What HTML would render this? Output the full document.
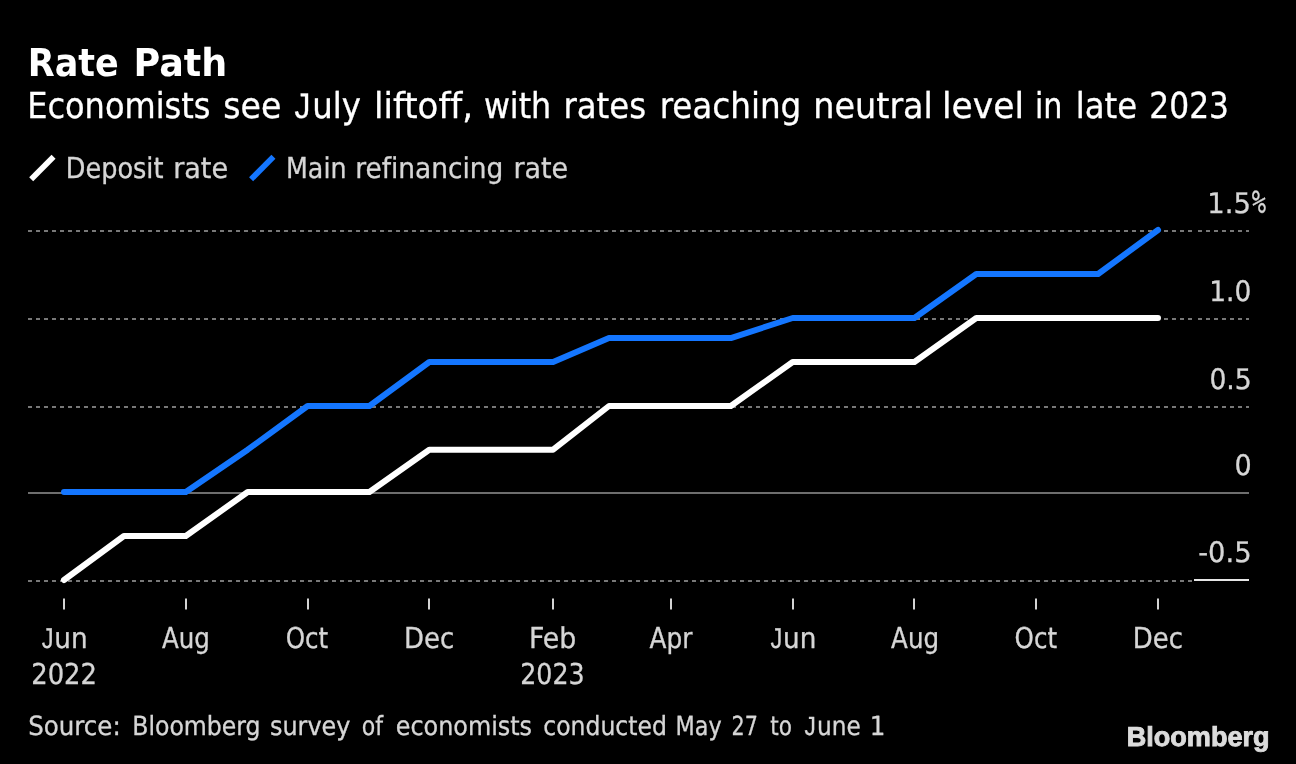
<!DOCTYPE html>
<html lang="en"><head><meta charset="utf-8"><title>Rate Path</title>
<style>
html,body{margin:0;padding:0;background:#000;}
body{width:1296px;height:764px;overflow:hidden;font-family:"DejaVu Sans","Liberation Sans",sans-serif;}
svg{display:block}
text{font-family:"DejaVu Sans Condensed","DejaVu Sans","Liberation Sans",sans-serif;text-rendering:geometricPrecision;font-variant-ligatures:none}
.pc{font-family:"DejaVu Sans Mono",monospace}
.ls{font-family:"Liberation Sans",sans-serif}
.b{font-weight:bold}
.logo{font-family:"Liberation Sans",sans-serif;font-weight:bold}
</style></head><body>
<svg width="1296" height="764" viewBox="0 0 1296 764">
<rect width="1296" height="764" fill="#000"/>

<text class="b" y="75.80" font-size="38.4" fill="#fff"><tspan x="27.76" textLength="90.99" lengthAdjust="spacingAndGlyphs">Rate</tspan> <tspan x="133.53" textLength="93.70" lengthAdjust="spacingAndGlyphs">Path</tspan></text>
<text y="117.80" font-size="35.7" fill="#fff" stroke="#fff" stroke-width="0.3"><tspan x="27.22" textLength="183.19" lengthAdjust="spacingAndGlyphs">Economists</tspan> <tspan x="223.27" textLength="58.13" lengthAdjust="spacingAndGlyphs">see</tspan> <tspan class="ls" x="294.60" textLength="15.88" lengthAdjust="spacingAndGlyphs">J</tspan><tspan x="312.35" textLength="48.64" lengthAdjust="spacingAndGlyphs">uly</tspan> <tspan x="374.03" textLength="99.11" lengthAdjust="spacingAndGlyphs">liftoff,</tspan> <tspan x="483.90" textLength="67.33" lengthAdjust="spacingAndGlyphs">with</tspan> <tspan x="563.44" textLength="82.69" lengthAdjust="spacingAndGlyphs">rates</tspan> <tspan x="659.67" textLength="141.66" lengthAdjust="spacingAndGlyphs">reaching</tspan> <tspan x="813.35" textLength="119.56" lengthAdjust="spacingAndGlyphs">neutral</tspan> <tspan x="942.01" textLength="81.99" lengthAdjust="spacingAndGlyphs">level</tspan> <tspan x="1034.88" textLength="27.47" lengthAdjust="spacingAndGlyphs">in</tspan> <tspan x="1075.69" textLength="61.43" lengthAdjust="spacingAndGlyphs">late</tspan> <tspan x="1149.33" textLength="79.65" lengthAdjust="spacingAndGlyphs">2023</tspan></text>
<line x1="31.2" y1="179.3" x2="53.55" y2="156.65" stroke="#fff" stroke-width="5.65"/>
<text y="177.60" font-size="28.8" fill="#d6d6d6" stroke="#d6d6d6" stroke-width="0.3"><tspan x="65.78" textLength="97.72" lengthAdjust="spacingAndGlyphs">Deposit</tspan> <tspan x="173.15" textLength="55.00" lengthAdjust="spacingAndGlyphs">rate</tspan></text>
<line x1="251.1" y1="179.3" x2="273.45" y2="156.65" stroke="#1476ff" stroke-width="5.65"/>
<text y="177.60" font-size="28.8" fill="#d6d6d6" stroke="#d6d6d6" stroke-width="0.3"><tspan x="286.00" textLength="60.48" lengthAdjust="spacingAndGlyphs">Main</tspan> <tspan x="355.21" textLength="148.14" lengthAdjust="spacingAndGlyphs">refinancing</tspan> <tspan x="513.41" textLength="54.73" lengthAdjust="spacingAndGlyphs">rate</tspan></text>
<line x1="28" y1="231" x2="1194" y2="231" stroke="#787878" stroke-width="2" stroke-dasharray="4 4"/>
<line x1="1198" y1="231" x2="1249" y2="231" stroke="#787878" stroke-width="2" stroke-dasharray="4 4"/>
<line x1="28" y1="319" x2="1194" y2="319" stroke="#787878" stroke-width="2" stroke-dasharray="4 4"/>
<line x1="1198" y1="319" x2="1249" y2="319" stroke="#787878" stroke-width="2" stroke-dasharray="4 4"/>
<line x1="28" y1="407" x2="1194" y2="407" stroke="#787878" stroke-width="2" stroke-dasharray="4 4"/>
<line x1="1198" y1="407" x2="1249" y2="407" stroke="#787878" stroke-width="2" stroke-dasharray="4 4"/>
<line x1="28" y1="581" x2="1194" y2="581" stroke="#787878" stroke-width="2" stroke-dasharray="4 4"/>
<line x1="28" y1="493" x2="1249" y2="493" stroke="#6e6e6e" stroke-width="2"/>
<line x1="1194" y1="580" x2="1249" y2="580" stroke="#e6e6e6" stroke-width="2"/>
<text y="212.60" font-size="28.3" fill="#d6d6d6" stroke="#d6d6d6" stroke-width="0.3"><tspan x="1207.34" textLength="43.56" lengthAdjust="spacingAndGlyphs">1.5</tspan><tspan class="pc" font-size="32.3" x="1251.83" textLength="14.27" lengthAdjust="spacingAndGlyphs">%</tspan></text>
<text y="300.60" font-size="28.3" fill="#d6d6d6" stroke="#d6d6d6" stroke-width="0.3"><tspan x="1209.25" textLength="42.02" lengthAdjust="spacingAndGlyphs">1.0</tspan></text>
<text y="388.60" font-size="28.3" fill="#d6d6d6" stroke="#d6d6d6" stroke-width="0.3"><tspan x="1209.41" textLength="42.33" lengthAdjust="spacingAndGlyphs">0.5</tspan></text>
<text y="474.60" font-size="28.3" fill="#d6d6d6" stroke="#d6d6d6" stroke-width="0.3"><tspan x="1234.49" textLength="17.21" lengthAdjust="spacingAndGlyphs">0</tspan></text>
<text y="561.60" font-size="28.3" fill="#d6d6d6" stroke="#d6d6d6" stroke-width="0.3"><tspan x="1198.25" textLength="53.35" lengthAdjust="spacingAndGlyphs">-0.5</tspan></text>
<polyline points="64.0,492.0 123.9,492.0 185.8,492.0 247.7,449.7 307.6,406.0 369.4,406.0 429.3,362.0 491.2,362.0 553.1,362.0 609.0,338.1 670.9,338.1 730.8,338.1 792.7,318.0 852.6,318.0 914.4,318.0 976.3,274.0 1036.2,274.0 1098.1,274.0 1158.0,230.0" fill="none" stroke="#1476ff" stroke-width="6" stroke-linecap="round" stroke-linejoin="round"/>
<polyline points="64.0,580.0 123.9,536.0 185.8,536.0 247.7,492.0 307.6,492.0 369.4,492.0 429.3,449.7 491.2,449.7 553.1,449.7 609.0,406.0 670.9,406.0 730.8,406.0 792.7,362.0 852.6,362.0 914.4,362.0 976.3,318.0 1036.2,318.0 1098.1,318.0 1158.0,318.0" fill="none" stroke="#fff" stroke-width="6" stroke-linecap="round" stroke-linejoin="round"/>
<line x1="64.0" y1="598.5" x2="64.0" y2="609.5" stroke="#d4d4d4" stroke-width="2"/>
<text y="647.60" font-size="28.8" fill="#d6d6d6" stroke="#d6d6d6" stroke-width="0.3"><tspan class="ls" x="41.63" textLength="11.79" lengthAdjust="spacingAndGlyphs">J</tspan><tspan x="54.28" textLength="33.27" lengthAdjust="spacingAndGlyphs">un</tspan></text>
<line x1="186.0" y1="598.5" x2="186.0" y2="609.5" stroke="#d4d4d4" stroke-width="2"/>
<text y="647.60" font-size="28.8" fill="#d6d6d6" stroke="#d6d6d6" stroke-width="0.3"><tspan x="162.00" textLength="47.95" lengthAdjust="spacingAndGlyphs">Aug</tspan></text>
<line x1="308.0" y1="598.5" x2="308.0" y2="609.5" stroke="#d4d4d4" stroke-width="2"/>
<text y="647.60" font-size="28.8" fill="#d6d6d6" stroke="#d6d6d6" stroke-width="0.3"><tspan x="285.72" textLength="42.52" lengthAdjust="spacingAndGlyphs">Oct</tspan></text>
<line x1="429.0" y1="598.5" x2="429.0" y2="609.5" stroke="#d4d4d4" stroke-width="2"/>
<text y="647.60" font-size="28.8" fill="#d6d6d6" stroke="#d6d6d6" stroke-width="0.3"><tspan x="403.97" textLength="50.20" lengthAdjust="spacingAndGlyphs">Dec</tspan></text>
<line x1="553.0" y1="598.5" x2="553.0" y2="609.5" stroke="#d4d4d4" stroke-width="2"/>
<text y="647.60" font-size="28.8" fill="#d6d6d6" stroke="#d6d6d6" stroke-width="0.3"><tspan x="528.90" textLength="47.27" lengthAdjust="spacingAndGlyphs">Feb</tspan></text>
<line x1="671.0" y1="598.5" x2="671.0" y2="609.5" stroke="#d4d4d4" stroke-width="2"/>
<text y="647.60" font-size="28.8" fill="#d6d6d6" stroke="#d6d6d6" stroke-width="0.3"><tspan x="649.50" textLength="42.85" lengthAdjust="spacingAndGlyphs">Apr</tspan></text>
<line x1="793.0" y1="598.5" x2="793.0" y2="609.5" stroke="#d4d4d4" stroke-width="2"/>
<text y="647.60" font-size="28.8" fill="#d6d6d6" stroke="#d6d6d6" stroke-width="0.3"><tspan class="ls" x="770.38" textLength="11.79" lengthAdjust="spacingAndGlyphs">J</tspan><tspan x="783.03" textLength="33.27" lengthAdjust="spacingAndGlyphs">un</tspan></text>
<line x1="914.0" y1="598.5" x2="914.0" y2="609.5" stroke="#d4d4d4" stroke-width="2"/>
<text y="647.60" font-size="28.8" fill="#d6d6d6" stroke="#d6d6d6" stroke-width="0.3"><tspan x="891.10" textLength="47.95" lengthAdjust="spacingAndGlyphs">Aug</tspan></text>
<line x1="1036.0" y1="598.5" x2="1036.0" y2="609.5" stroke="#d4d4d4" stroke-width="2"/>
<text y="647.60" font-size="28.8" fill="#d6d6d6" stroke="#d6d6d6" stroke-width="0.3"><tspan x="1014.62" textLength="42.52" lengthAdjust="spacingAndGlyphs">Oct</tspan></text>
<line x1="1158.0" y1="598.5" x2="1158.0" y2="609.5" stroke="#d4d4d4" stroke-width="2"/>
<text y="647.60" font-size="28.8" fill="#d6d6d6" stroke="#d6d6d6" stroke-width="0.3"><tspan x="1132.87" textLength="50.20" lengthAdjust="spacingAndGlyphs">Dec</tspan></text>
<text y="683.70" font-size="28.8" fill="#d6d6d6" stroke="#d6d6d6" stroke-width="0.3"><tspan x="31.20" textLength="65.82" lengthAdjust="spacingAndGlyphs">2022</tspan></text>
<text y="683.70" font-size="28.8" fill="#d6d6d6" stroke="#d6d6d6" stroke-width="0.3"><tspan x="520.24" textLength="64.35" lengthAdjust="spacingAndGlyphs">2023</tspan></text>
<text y="735.40" font-size="26.3" fill="#d6d6d6" stroke="#d6d6d6" stroke-width="0.3"><tspan x="28.22" textLength="92.51" lengthAdjust="spacingAndGlyphs">Source:</tspan> <tspan x="132.20" textLength="128.42" lengthAdjust="spacingAndGlyphs">Bloomberg</tspan> <tspan x="270.00" textLength="80.44" lengthAdjust="spacingAndGlyphs">survey</tspan> <tspan x="361.85" textLength="21.23" lengthAdjust="spacingAndGlyphs">of</tspan> <tspan x="395.76" textLength="136.32" lengthAdjust="spacingAndGlyphs">economists</tspan> <tspan x="543.27" textLength="123.59" lengthAdjust="spacingAndGlyphs">conducted</tspan> <tspan x="675.56" textLength="46.10" lengthAdjust="spacingAndGlyphs">May</tspan> <tspan x="731.56" textLength="26.35" lengthAdjust="spacingAndGlyphs">27</tspan> <tspan x="770.37" textLength="21.71" lengthAdjust="spacingAndGlyphs">to</tspan> <tspan class="ls" x="804.45" textLength="11.26" lengthAdjust="spacingAndGlyphs">J</tspan><tspan x="817.08" textLength="43.80" lengthAdjust="spacingAndGlyphs">une</tspan> <tspan x="869.84" textLength="15.64" lengthAdjust="spacingAndGlyphs">1</tspan></text>
<text class="logo" x="1126.76" y="746.25" font-size="27.5" fill="#dcdcdc" stroke="#dcdcdc" stroke-width="0.9" textLength="142.82" lengthAdjust="spacingAndGlyphs">Bloomberg</text>
</svg></body></html>
